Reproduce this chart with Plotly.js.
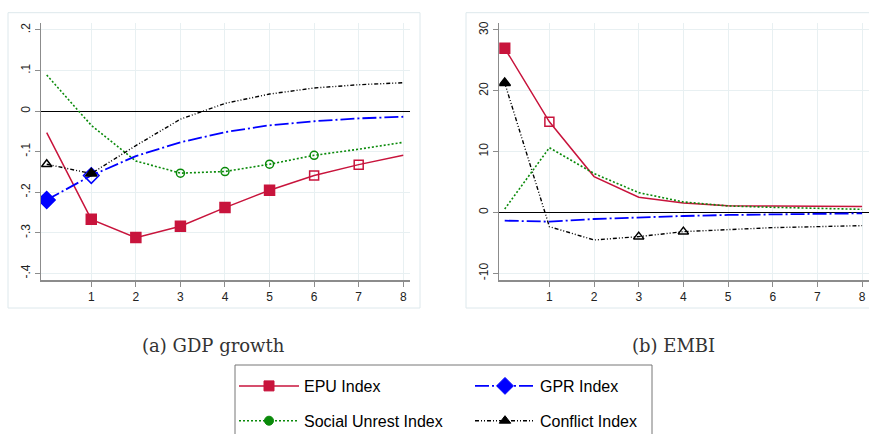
<!DOCTYPE html>
<html>
<head>
<meta charset="utf-8">
<script src="https://cdn.plot.ly/plotly-3.0.1.min.js"></script>
<style>
  html, body { margin: 0; padding: 0; background: #fff; }
  #chart { width: 869px; height: 434px; }
</style>
</head>
<body>
<div id="chart"></div>
<script>
// horizon (quarters after the shock)
const horizon = [0, 1, 2, 3, 4, 5, 6, 7, 8];
const x_ticks = [1, 2, 3, 4, 5, 6, 7, 8];

// (a) GDP growth responses
const gdp_epu = [-0.053, -0.267, -0.312, -0.284, -0.238, -0.195, -0.159, -0.132, -0.109];
const gdp_gpr = [-0.219, -0.159, -0.111, -0.077, -0.052, -0.035, -0.025, -0.018, -0.014];
const gdp_social = [0.089, -0.035, -0.123, -0.153, -0.149, -0.131, -0.109, -0.094, -0.077];
const gdp_conflict = [-0.131, -0.154, -0.085, -0.020, 0.019, 0.042, 0.057, 0.065, 0.070];
const gdp_ticks = [0.2, 0.1, 0, -0.1, -0.2, -0.3, -0.4];
const gdp_tick_labels = [".2", ".1", "0", "-.1", "-.2", "-.3", "-.4"];

// (b) EMBI responses
const embi_epu = [27.0, 14.9, 5.9, 2.5, 1.56, 1.12, 1.07, 1.0, 1.0];
const embi_gpr = [-1.35, -1.5, -1.07, -0.79, -0.58, -0.41, -0.3, -0.19, -0.14];
const embi_social = [0.57, 10.65, 6.4, 3.26, 1.73, 1.07, 0.85, 0.67, 0.52];
const embi_conflict = [21.3, -2.33, -4.52, -3.97, -3.15, -2.77, -2.49, -2.33, -2.16];
const embi_ticks = [30, 20, 10, 0, -10];

const series_names = ["EPU Index", "GPR Index", "Social Unrest Index", "Conflict Index"];
const panel_titles = ["(a) GDP growth", "(b) EMBI"];

const W = 869, H = 434;
const px = v => v / W;
const py = v => 1 - v / H;

const RED = "#c8143c", BLUE = "#0000ff", GREEN = "#0a8a0a", BLACK = "#000000";
const GRID = "#e8f0f2";

const styles = {
    "EPU Index": {color: RED, dash: "solid", width: 1.5, symbol: "square", size: 10},
    "GPR Index": {color: BLUE, dash: "14px,3px,2px,3px", width: 1.8, symbol: "diamond", size: 13},
    "Social Unrest Index": {color: GREEN, dash: "2px,2px", width: 1.6, symbol: "circle", size: 9},
    "Conflict Index": {color: BLACK, dash: "4px,2px,1px,2px,1px,2px", width: 1.4, symbol: "triangle-up", size: 10},
};

// which points carry a marker: "f" filled, "o" hollow, "" none
const marks = {
    gdp: {
        "EPU Index": ["", "f", "f", "f", "f", "f", "o", "o", ""],
        "GPR Index": ["f", "o", "", "", "", "", "", "", ""],
        "Social Unrest Index": ["", "", "", "o", "o", "o", "o", "", ""],
        "Conflict Index": ["o", "f", "", "", "", "", "", "", ""],
    },
    embi: {
        "EPU Index": ["f", "o", "", "", "", "", "", "", ""],
        "GPR Index": ["", "", "", "", "", "", "", "", ""],
        "Social Unrest Index": ["", "", "", "", "", "", "", "", ""],
        "Conflict Index": ["f", "", "", "o", "o", "", "", "", ""],
    },
};

function make_trace(name, y, panel, xa, ya) {
    let st = styles[name];
    let pm = marks[panel][name];
    return {
        x: horizon,
        y: y,
        xaxis: xa,
        yaxis: ya,
        name: name,
        mode: "lines+markers",
        showlegend: false,
        line: {color: st.color, dash: st.dash, width: st.width},
        marker: {
            color: st.color,
            opacity: 1,
            symbol: pm.map(m => m === "o" ? st.symbol + "-open" : st.symbol),
            size: pm.map(m => m === "" ? 0 : (m === "o" ? st.size - 1 : st.size)),
            line: {color: st.color, width: 1.5},
        },
        hoverinfo: "skip",
    };
}

function legend_trace(name, legend_id) {
    let st = styles[name];
    return {
        x: [null],
        y: [null],
        xaxis: "x",
        yaxis: "y",
        name: name,
        legend: legend_id,
        legendgroup: name,
        mode: "lines+markers",
        showlegend: true,
        line: {color: st.color, dash: st.dash, width: st.width},
        marker: {color: st.color, opacity: 1, symbol: st.symbol, size: st.size, line: {color: st.color, width: 1}},
    };
}

let data = [
    make_trace("EPU Index", gdp_epu, "gdp", "x", "y"),
    make_trace("Social Unrest Index", gdp_social, "gdp", "x", "y"),
    make_trace("GPR Index", gdp_gpr, "gdp", "x", "y"),
    make_trace("Conflict Index", gdp_conflict, "gdp", "x", "y"),
    make_trace("Conflict Index", embi_conflict, "embi", "x2", "y2"),
    make_trace("GPR Index", embi_gpr, "embi", "x2", "y2"),
    make_trace("EPU Index", embi_epu, "embi", "x2", "y2"),
    make_trace("Social Unrest Index", embi_social, "embi", "x2", "y2"),
    legend_trace(series_names[0], "legend"),
    legend_trace(series_names[2], "legend"),
    legend_trace(series_names[1], "legend2"),
    legend_trace(series_names[3], "legend2"),
];

const tick_font = {family: "Liberation Sans, Arial, sans-serif", size: 12, color: "#222"};

function x_axis(domain, range) {
    return {
        domain: domain, range: range,
        tickvals: x_ticks, ticktext: x_ticks.map(String),
        showgrid: true, gridcolor: GRID, gridwidth: 1,
        zeroline: false,
        showline: true, linecolor: "#8c8c8c", linewidth: 1.5,
        ticks: "outside", ticklen: 5, tickcolor: "#8c8c8c", tickwidth: 1,
        tickfont: tick_font, fixedrange: true,
    };
}

function y_axis(domain, range, vals, text, anchor) {
    return {
        domain: domain, range: range, anchor: anchor,
        tickvals: vals, ticktext: text, tickangle: -90,
        showgrid: true, gridcolor: GRID, gridwidth: 1,
        zeroline: true, zerolinecolor: "#000", zerolinewidth: 1,
        showline: true, linecolor: "#8c8c8c", linewidth: 1.5,
        ticks: "outside", ticklen: 5, tickcolor: "#8c8c8c", tickwidth: 1,
        tickfont: tick_font, fixedrange: true,
    };
}

const y_dom = [py(280), py(23.3)];
const legend_font = {family: "Liberation Sans, Arial, sans-serif", size: 16, color: "#000"};

let layout = {
    width: W,
    height: H,
    margin: {l: 0, r: 0, t: 0, b: 0, autoexpand: false},
    paper_bgcolor: "#fff",
    plot_bgcolor: "#fff",
    xaxis: Object.assign(x_axis([px(41), px(410)], [-0.128, 8.151]), {anchor: "y"}),
    yaxis: y_axis(y_dom, [-0.4165, 0.2165], gdp_ticks, gdp_tick_labels, "x"),
    xaxis2: Object.assign(x_axis([px(499.3), 1], [-0.121, 8.155]), {anchor: "y2"}),
    yaxis2: y_axis(y_dom, [-11.1, 31.1], embi_ticks, embi_ticks.map(String), "x2"),
    legend: {
        x: px(234), y: py(369), xanchor: "left", yanchor: "top",
        orientation: "v", tracegroupgap: 11, itemwidth: 60,
        font: legend_font, bgcolor: "rgba(0,0,0,0)", borderwidth: 0,
    },
    legend2: {
        x: px(470), y: py(369), xanchor: "left", yanchor: "top",
        orientation: "v", tracegroupgap: 11, itemwidth: 60,
        font: legend_font, bgcolor: "rgba(0,0,0,0)", borderwidth: 0,
    },
    shapes: [
        {type: "rect", xref: "paper", yref: "paper", x0: px(8), x1: px(420), y0: py(308), y1: py(12.7),
            line: {color: "#dde8ec", width: 1}, layer: "below"},
        {type: "rect", xref: "paper", yref: "paper", x0: px(466), x1: px(880), y0: py(308), y1: py(12.7),
            line: {color: "#dde8ec", width: 1}, layer: "below"},
        {type: "rect", xref: "paper", yref: "paper", x0: px(235), x1: px(652), y0: py(445), y1: py(365),
            line: {color: "#777", width: 1}},
    ],
    annotations: [
        {text: panel_titles[0], xref: "paper", yref: "paper", x: px(213), y: py(345), showarrow: false,
            xanchor: "center", yanchor: "middle",
            font: {family: "DejaVu Serif, serif", size: 18, color: "#333"}},
        {text: panel_titles[1], xref: "paper", yref: "paper", x: px(673), y: py(345), showarrow: false,
            xanchor: "center", yanchor: "middle",
            font: {family: "DejaVu Serif, serif", size: 18, color: "#333"}},
    ],
};

Plotly.newPlot("chart", data, layout, {staticPlot: true});
</script>
</body>
</html>
